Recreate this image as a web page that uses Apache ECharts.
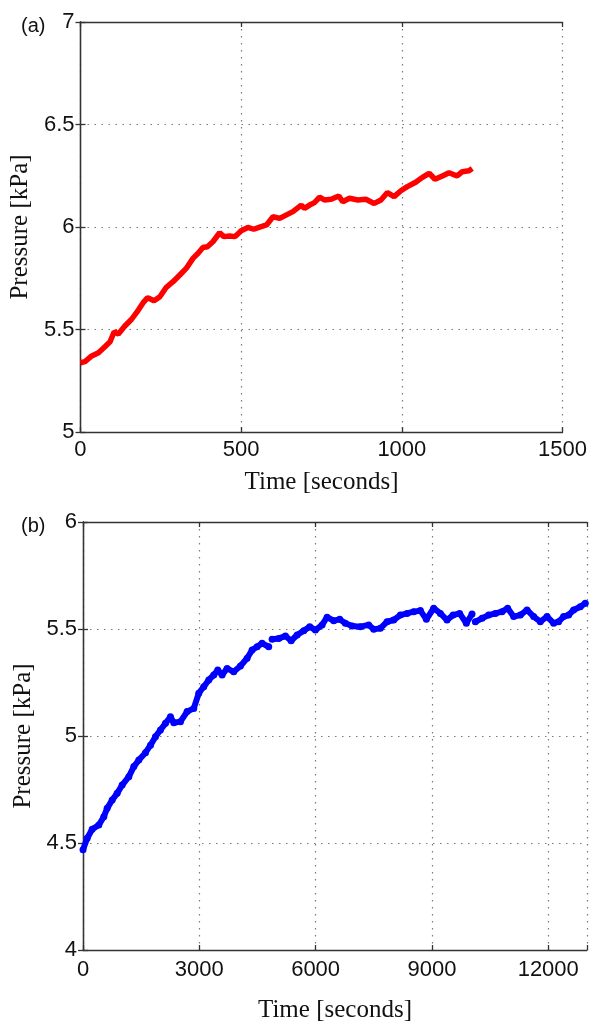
<!DOCTYPE html>
<html>
<head>
<meta charset="utf-8">
<script src="https://cdn.jsdelivr.net/npm/echarts@6/dist/echarts.min.js"></script>
<style>
  html, body {margin: 0; padding: 0; background: #fff;}
  #chart {width: 590px; height: 1025px;}
</style>
</head>
<body>
<div id="chart"></div>
<script>
// panel (a): short run
var tA = [0, 14, 35, 56, 76, 92, 105, 118, 138, 159, 180, 195, 209, 229, 247, 267, 288, 309, 329, 350,
  366, 381, 395, 412, 433, 446, 464, 481, 500, 521, 539, 560, 579, 599, 620, 641, 661, 687, 697, 713,
  728, 744, 759, 780, 804, 816, 837, 863, 888, 914, 935, 955, 976, 997, 1017, 1043, 1064, 1085, 1103,
  1126, 1147, 1172, 1188, 1209, 1219];
var pA = [5.338, 5.343, 5.371, 5.387, 5.416, 5.44, 5.489, 5.478, 5.517, 5.55, 5.595, 5.631, 5.655, 5.64,
  5.66, 5.706, 5.733, 5.766, 5.798, 5.847, 5.872, 5.9, 5.904, 5.928, 5.972, 5.953, 5.956, 5.953, 5.982,
  5.998, 5.989, 6.001, 6.01, 6.05, 6.042, 6.059, 6.075, 6.107, 6.091, 6.107, 6.119, 6.145, 6.132, 6.135,
  6.151, 6.123, 6.14, 6.132, 6.135, 6.115, 6.132, 6.168, 6.148, 6.177, 6.197, 6.218, 6.242, 6.262, 6.233,
  6.249, 6.265, 6.249, 6.27, 6.274, 6.285];

// panel (b): long run (null = small gap in the record)
var tB = [0, 108, 237, 408, 537, 623, 753, 881, 1010, 1182, 1311, 1440, 1612, 1741, 1869, 1998, 2127,
  2256, 2342, 2514, 2686, 2857, 2986, 3115, 3244, 3373, 3476, 3588, 3717, 3888, 4061, 4233, 4362, 4491,
  4620, 4791, 4835, 4878, 5049, 5221, 5368, 5523, 5693, 5848, 5995, 6167, 6296, 6467, 6621, 6768, 6941,
  7155, 7369, 7498, 7671, 7843, 8014, 8186, 8359, 8529, 8702, 8857, 9045, 9218, 9390, 9545, 9715, 9888,
  10035, 10080, 10120, 10293, 10463, 10636, 10808, 10953, 11108, 11280, 11453, 11624, 11796, 11969,
  12139, 12268, 12397, 12526, 12655, 12827, 12956];
var pB = [4.468, 4.522, 4.564, 4.584, 4.623, 4.662, 4.701, 4.732, 4.771, 4.81, 4.857, 4.888, 4.922,
  4.957, 4.997, 5.028, 5.059, 5.09, 5.062, 5.067, 5.114, 5.129, 5.2, 5.23, 5.262, 5.285, 5.308, 5.285,
  5.316, 5.3, 5.327, 5.363, 5.402, 5.417, 5.433, 5.417, null, 5.452, 5.456, 5.467, 5.445, 5.472, 5.492,
  5.511, 5.495, 5.519, 5.555, 5.539, 5.545, 5.527, 5.514, 5.511, 5.519, 5.499, 5.503, 5.534, 5.542,
  5.565, 5.573, 5.581, 5.586, 5.545, 5.597, 5.573, 5.542, 5.565, 5.573, 5.527, 5.57, null, 5.534, 5.55,
  5.565, 5.573, 5.581, 5.597, 5.558, 5.565, 5.589, 5.558, 5.534, 5.558, 5.527, 5.534, 5.558, 5.565,
  5.589, 5.604, 5.62];

function pairs(t, p) {
  return t.map(function (v, i) { return [v, p[i] === null ? '-' : p[i]]; });
}

var tickFont = {fontFamily: 'Liberation Sans', fontSize: 22, color: '#111'};
var nameFont = {fontFamily: 'Liberation Serif', fontSize: 25, color: '#111'};
var gridLine = {show: true, lineStyle: {color: '#7a7a7a', width: 1.2, type: [1.5, 5.5]}};
var frame = {show: true, lineStyle: {color: '#333', width: 1.3}};
var tick = {show: true, inside: true, length: 5, lineStyle: {color: '#333', width: 1.3}};

function xAxes(gi, max, interval, gap, margin) {
  return [{
    type: 'value', gridIndex: gi, min: 0, max: max, interval: interval,
    name: 'Time [seconds]', nameLocation: 'middle', nameGap: gap, nameTextStyle: nameFont,
    axisLine: frame, axisTick: tick, splitLine: gridLine,
    axisLabel: Object.assign({margin: margin, formatter: function (v) {
      return v % interval === 0 ? String(v) : '';
    }}, tickFont)
  }, {
    type: 'value', gridIndex: gi, position: 'top', min: 0, max: max, interval: interval,
    axisLine: frame, axisTick: tick, splitLine: {show: false}, axisLabel: {show: false}
  }];
}

function yAxes(gi, min, max, gap) {
  return [{
    type: 'value', gridIndex: gi, min: min, max: max, interval: 0.5,
    name: 'Pressure [kPa]', nameLocation: 'middle', nameGap: gap, nameRotate: 90, nameTextStyle: nameFont,
    axisLine: frame, axisTick: tick, splitLine: gridLine,
    axisLabel: Object.assign({margin: 6, formatter: function (v) { return String(v); }}, tickFont)
  }, {
    type: 'value', gridIndex: gi, position: 'right', min: min, max: max, interval: 0.5,
    axisLine: frame, axisTick: tick, splitLine: {show: false}, axisLabel: {show: false}
  }];
}

var chart = echarts.init(document.getElementById('chart'));
chart.setOption({
  animation: false,
  title: [
    {text: '(a)', left: 16, top: 11, textStyle: {fontFamily: 'Liberation Sans', fontSize: 20, fontWeight: 'normal', color: '#111'}},
    {text: '(b)', left: 16, top: 511, textStyle: {fontFamily: 'Liberation Sans', fontSize: 20, fontWeight: 'normal', color: '#111'}}
  ],
  grid: [
    {left: 80, top: 22, width: 484, height: 410},
    {left: 83, top: 522, width: 504, height: 428}
  ],
  xAxis: xAxes(0, 1500, 500, 38, 7).concat(xAxes(1, 13000, 3000, 48, 9)),
  yAxis: yAxes(0, 5, 7, 44).concat(yAxes(1, 4, 6, 47)),
  series: [
    {
      type: 'line', xAxisIndex: 0, yAxisIndex: 0, data: pairs(tA, pA),
      showSymbol: false, lineStyle: {color: '#ff0000', width: 5.5}, itemStyle: {color: '#ff0000'}
    },
    {
      type: 'line', xAxisIndex: 2, yAxisIndex: 2, data: pairs(tB, pB),
      symbol: 'circle', symbolSize: 7, showAllSymbol: true,
      lineStyle: {color: '#0000ff', width: 6}, itemStyle: {color: '#0000ff'}
    }
  ]
});
</script>
</body>
</html>
